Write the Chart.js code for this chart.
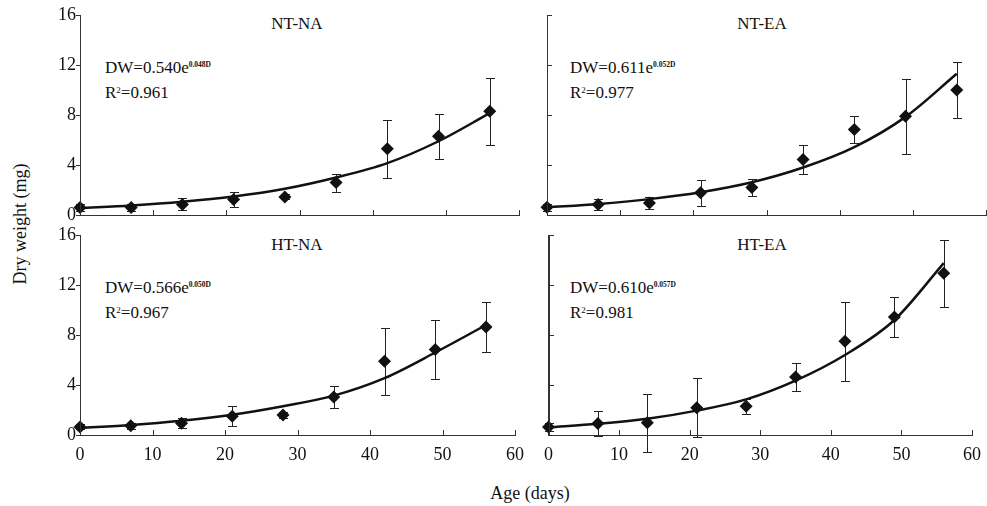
<!DOCTYPE html>
<html>
<head>
<meta charset="utf-8">
<script src="https://cdn.jsdelivr.net/npm/chart.js@4.4.1/dist/chart.umd.min.js"></script>
<style>
  html, body { margin: 0; padding: 0; background: #fff; overflow: hidden; }
  body { width: 987px; height: 506px; position: relative; font-family: "Liberation Serif", "Times New Roman", serif; color: #111; }
  canvas { position: absolute; }
  .txt { position: absolute; white-space: nowrap; font-size: 17px; line-height: 22px; }
  .title { transform: translate(-50%, -50%); }
  .sup { font-size: 7.5px; font-weight: bold; vertical-align: 5.5px; }
  .sq { font-size: 9px; vertical-align: 5px; }
  .axis-title { position: absolute; white-space: nowrap; font-size: 18px; transform: translate(-50%, -50%); }
</style>
</head>
<body>

<div class="txt title" style="left:297px; top:24px;">NT-NA</div>
<div class="txt title" style="left:762px; top:24px;">NT-EA</div>
<div class="txt title" style="left:297px; top:245px;">HT-NA</div>
<div class="txt title" style="left:762px; top:245px;">HT-EA</div>

<div class="txt" style="left:105px; top:54px;">DW=0.540e<span class="sup">0.048D</span><br>R<span class="sq">2</span>=0.961</div>
<div class="txt" style="left:570px; top:54px;">DW=0.611e<span class="sup">0.052D</span><br>R<span class="sq">2</span>=0.977</div>
<div class="txt" style="left:105px; top:274px;">DW=0.566e<span class="sup">0.050D</span><br>R<span class="sq">2</span>=0.967</div>
<div class="txt" style="left:570px; top:274px;">DW=0.610e<span class="sup">0.057D</span><br>R<span class="sq">2</span>=0.981</div>

<div class="axis-title" style="left:530px; top:493px;">Age (days)</div>
<div class="axis-title" style="left:20px; top:224px; transform: translate(-50%, -50%) rotate(-90deg);">Dry weight (mg)</div>

<script>
// sampling days
const days = [0, 7, 14, 21, 28, 35, 42, 49, 56];

// mean dry weight (mg), error bar half-length and fitted curve, per treatment
const ntnaMean = [0.6, 0.6, 0.85, 1.25, 1.45, 2.6, 5.3, 6.3, 8.3];
const ntnaErr = [0.25, 0.25, 0.48, 0.6, 0.2, 0.72, 2.3, 1.78, 2.7];
const ntnaFit = [0.54, 0.76, 1.06, 1.48, 2.1, 3.0, 4.15, 5.9, 8.15];

const nteaMean = [0.62, 0.85, 0.97, 1.78, 2.2, 4.45, 6.85, 7.9, 10.0];
const nteaErr = [0.3, 0.42, 0.45, 1.04, 0.68, 1.18, 1.1, 3.0, 2.23];
const nteaFit = [0.61, 0.88, 1.27, 1.82, 2.62, 3.8, 5.43, 7.85, 11.3];

const htnaMean = [0.65, 0.75, 0.95, 1.5, 1.6, 3.05, 5.9, 6.85, 8.65];
const htnaErr = [0.2, 0.25, 0.4, 0.8, 0.25, 0.88, 2.68, 2.33, 2.0];
const htnaFit = [0.57, 0.8, 1.14, 1.62, 2.3, 3.15, 4.55, 6.6, 8.8];

const hteaMean = [0.65, 0.93, 0.98, 2.18, 2.3, 4.65, 7.5, 9.45, 12.95];
const hteaErr = [0.35, 1.03, 2.3, 2.37, 0.6, 1.1, 3.15, 1.63, 2.68];
const hteaFit = [0.61, 0.9, 1.3, 1.95, 2.85, 4.35, 6.4, 9.2, 13.75];

const xTicks = [0, 10, 20, 30, 40, 50, 60];
const yTicks = [0, 4, 8, 12, 16];

Chart.defaults.font.family = '"Liberation Serif", "Times New Roman", serif';
Chart.defaults.color = '#111';

// plot area of every panel in page pixels, plus canvas margins around it
const panels = [
  { L: 80, R: 519, T: 15, B: 215, padL: 50, padR: 14, padT: 15, padB: 20, left: true, bottom: false, mean: ntnaMean, err: ntnaErr, fit: ntnaFit },
  { L: 547, R: 986, T: 15, B: 215, padL: 12, padR: 12, padT: 15, padB: 8, left: false, bottom: false, mean: nteaMean, err: nteaErr, fit: nteaFit },
  { L: 80, R: 519, T: 235, B: 435, padL: 50, padR: 14, padT: 20, padB: 32, left: true, bottom: true, mean: htnaMean, err: htnaErr, fit: htnaFit },
  { L: 547, R: 978, T: 235, B: 435, padL: 12, padR: 12, padT: 20, padB: 32, left: false, bottom: true, mean: hteaMean, err: hteaErr, fit: hteaFit },
];

function makePanel(p) {
  const { padL, padR, padT, padB } = p;
  const canvas = document.createElement('canvas');
  canvas.width = p.R - p.L + padL + padR;
  canvas.height = p.B - p.T + padT + padB;
  canvas.style.left = (p.L - padL) + 'px';
  canvas.style.top = (p.T - padT) + 'px';
  document.body.appendChild(canvas);

  // axis lines and short ticks as 1px filled rects
  // (x ticks point up, y ticks point out on the left panels and in on the right ones)
  const frame = {
    id: 'frame',
    afterDraw(chart) {
      const { ctx, scales: { x, y } } = chart;
      const ax = Math.round(x.getPixelForValue(0));
      const ay = Math.round(y.getPixelForValue(0));
      const top = Math.round(y.getPixelForValue(16));
      const right = Math.round(x.getPixelForValue(60));
      ctx.save();
      ctx.fillStyle = '#333';
      ctx.fillRect(ax, top, 1, ay - top + 1);
      ctx.fillRect(ax, ay, right - ax + 1, 1);
      yTicks.forEach((v) => {
        const py = Math.round(y.getPixelForValue(v));
        ctx.fillRect(p.left ? ax - 4 : ax, py, 5, 1);
      });
      xTicks.forEach((v) => {
        const px = Math.round(x.getPixelForValue(v));
        ctx.fillRect(px, ay - 5, 1, 6);
      });
      ctx.restore();
    },
  };

  // vertical error bars with caps
  const errorBars = {
    id: 'errorBars',
    beforeDatasetsDraw(chart) {
      const { ctx, scales: { x, y } } = chart;
      ctx.save();
      ctx.fillStyle = '#222';
      p.mean.forEach((m, i) => {
        const px = Math.round(x.getPixelForValue(days[i]));
        const top = Math.round(y.getPixelForValue(m + p.err[i]));
        const bot = Math.round(y.getPixelForValue(m - p.err[i]));
        ctx.fillRect(px, top, 1, bot - top + 1);
        ctx.fillRect(px - 4, top, 9, 1);
        ctx.fillRect(px - 4, bot, 9, 1);
      });
      ctx.restore();
    },
  };

  new Chart(canvas, {
    type: 'scatter',
    data: {
      datasets: [
        {
          data: days.map((d, i) => ({ x: d, y: p.fit[i] })),
          showLine: true,
          pointRadius: 0,
          borderColor: '#111',
          borderWidth: 2.5,
          cubicInterpolationMode: 'monotone',
        },
        {
          data: days.map((d, i) => ({ x: d, y: p.mean[i] })),
          pointStyle: 'rectRot',
          pointRadius: 6.5,
          pointBackgroundColor: '#111',
          pointBorderWidth: 0,
          clip: false,
        },
      ],
    },
    options: {
      responsive: false,
      animation: false,
      devicePixelRatio: 1,
      layout: { padding: { left: 0, right: padR, top: padT, bottom: 0 } },
      plugins: { legend: { display: false }, tooltip: { enabled: false } },
      scales: {
        x: {
          type: 'linear',
          min: 0,
          max: 60,
          grid: { display: false, drawTicks: false },
          border: { display: true, color: '#333', width: 1 },
          ticks: { display: p.bottom, stepSize: 10, padding: 9, autoSkip: false, maxRotation: 0, font: { size: 18 }, color: '#111' },
          afterFit: (s) => { s.height = padB; },
        },
        y: {
          min: 0,
          max: 16,
          grid: { display: false, drawTicks: false },
          border: { display: true, color: '#333', width: 1 },
          ticks: { display: p.left, stepSize: 4, padding: 4, font: { size: 18 }, color: '#111' },
          afterFit: (s) => { s.width = padL; },
        },
      },
    },
    plugins: [frame, errorBars],
  });
}

panels.forEach(makePanel);
</script>
</body>
</html>
